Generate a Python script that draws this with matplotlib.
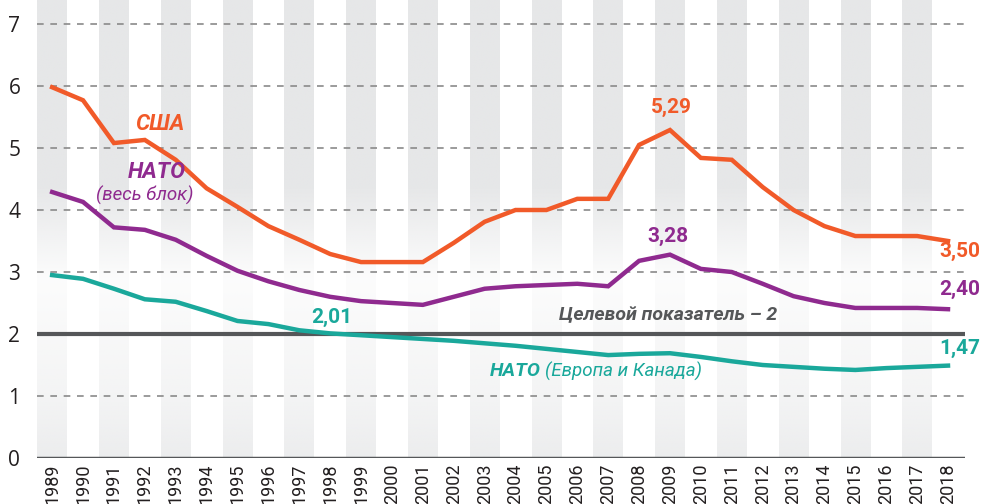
import matplotlib
matplotlib.use("Agg")
import matplotlib.pyplot as plt
import numpy as np

years = list(range(1989, 2019))
usa = [5.98, 5.77, 5.08, 5.13, 4.81, 4.35, 4.05, 3.74, 3.52, 3.29, 3.16, 3.16, 3.16, 3.47, 3.81,
       4.00, 4.00, 4.18, 4.18, 5.05, 5.29, 4.84, 4.81, 4.37, 4.00, 3.74, 3.58, 3.58, 3.58, 3.50]
nato_all = [4.29, 4.13, 3.72, 3.68, 3.52, 3.26, 3.02, 2.85, 2.71, 2.60, 2.53, 2.50, 2.47, 2.60, 2.73,
            2.77, 2.79, 2.81, 2.77, 3.18, 3.28, 3.05, 3.00, 2.81, 2.61, 2.50, 2.42, 2.42, 2.42, 2.40]
nato_eu = [2.95, 2.89, 2.73, 2.56, 2.52, 2.37, 2.21, 2.16, 2.06, 2.01, 1.98, 1.95, 1.92, 1.89, 1.85,
           1.81, 1.76, 1.71, 1.66, 1.68, 1.69, 1.63, 1.56, 1.50, 1.47, 1.44, 1.42, 1.45, 1.47, 1.49]
yticks = [0, 1, 2, 3, 4, 5, 6, 7]
target = 2

ORANGE = "#f15a29"
PURPLE = "#8f2a8f"
TEAL = "#1aa89b"
DARK = "#555759"

COND = ["Roboto", "DejaVu Sans"]
REG = ["Open Sans", "DejaVu Sans"]

fig = plt.figure(figsize=(9.82, 5.04), dpi=100)
ax = fig.add_axes([37 / 982, 1 - 458 / 504, (965 - 37) / 982, 458 / 504])
YMAX = 458 / 62.0

# stripes with vertical gradient
ys = np.linspace(0, YMAX, 300)
alpha = np.interp(ys, [0, 1.0, 2.9, 4.4, YMAX], [0.75, 0.45, 0.12, 1.0, 1.0])
grad = np.zeros((len(ys), 1, 4))
grad[:, 0, 0] = 0xe6 / 255
grad[:, 0, 1] = 0xe7 / 255
grad[:, 0, 2] = 0xe8 / 255
grad[:, 0, 3] = alpha
grad = grad[::-1]
for yr in years[::2]:
    ax.imshow(grad, extent=[yr - 0.48, yr + 0.48, 0, YMAX], aspect="auto", zorder=0,
              interpolation="bilinear")
ax.set_xlim(1988.51, 2018.55)
ax.set_ylim(0, YMAX)

# grid
for t in yticks:
    if t in (0, target):
        continue
    ax.axhline(t, color="#8a8a8a", lw=1.2, ls=(0, (4, 4)), zorder=1)
ax.axhline(0, color=DARK, lw=2.5, zorder=2)
ax.axhline(target, color=DARK, lw=3, zorder=2)

ax.plot(years, usa, color=ORANGE, lw=3.2, zorder=4, solid_joinstyle="miter")
ax.plot(years, nato_all, color=PURPLE, lw=3.2, zorder=4, solid_joinstyle="miter")
ax.plot(years, nato_eu, color=TEAL, lw=3.2, zorder=4, solid_joinstyle="miter")

for s in ax.spines.values():
    s.set_visible(False)
ax.set_yticks(yticks)
ax.set_yticklabels([str(t) for t in yticks], family=REG, fontsize=15, color="#231f20")
ax.set_xticks(years)
ax.set_xticklabels([str(y) for y in years], rotation=90, family=COND, fontsize=13, color="#231f20")
ax.tick_params(axis="both", length=0)
ax.tick_params(axis="y", pad=12)
ax.tick_params(axis="x", pad=4)

def lab(x, y, s, c, size=15, style="italic", weight="bold", ha="center"):
    ax.text(x, y, s, color=c, fontsize=size, fontstyle=style, fontweight=weight,
            family=COND, ha=ha, va="center", clip_on=False, zorder=5)

XR = 1989 + (980 - 52) / 30.9
lab(1992.5, 5.39, "США", ORANGE, size=16)
lab(1992.4, 4.61, "НАТО", PURPLE, size=16)
lab(1992.0, 4.24, "(весь блок)", PURPLE, size=13.5, weight="normal")
lab(2009.05, 5.66, "5,29", ORANGE, style="normal")
lab(XR, 3.33, "3,50", ORANGE, style="normal", ha="right")
lab(2008.95, 3.57, "3,28", PURPLE, style="normal")
lab(XR, 2.72, "2,40", PURPLE, style="normal", ha="right")
lab(1998.05, 2.27, "2,01", TEAL, style="normal")
lab(XR, 1.77, "1,47", TEAL, style="normal", ha="right")
lab(2008.95, 2.3, "Целевой показатель – 2", DARK, size=14)

# НАТО (Европа и Канада)
x_nato = 1989 + (541 - 52) / 30.9
ax.text(x_nato, 1.4, "НАТО", color=TEAL, fontsize=14, fontstyle="italic", fontweight="bold",
        family=COND, ha="right", va="center", zorder=5)
ax.text(x_nato + 0.12, 1.4, "(Европа и Канада)", color=TEAL, fontsize=13.5, fontstyle="italic",
        family=COND, ha="left", va="center", zorder=5)

fig.savefig("out.png", dpi=100)
